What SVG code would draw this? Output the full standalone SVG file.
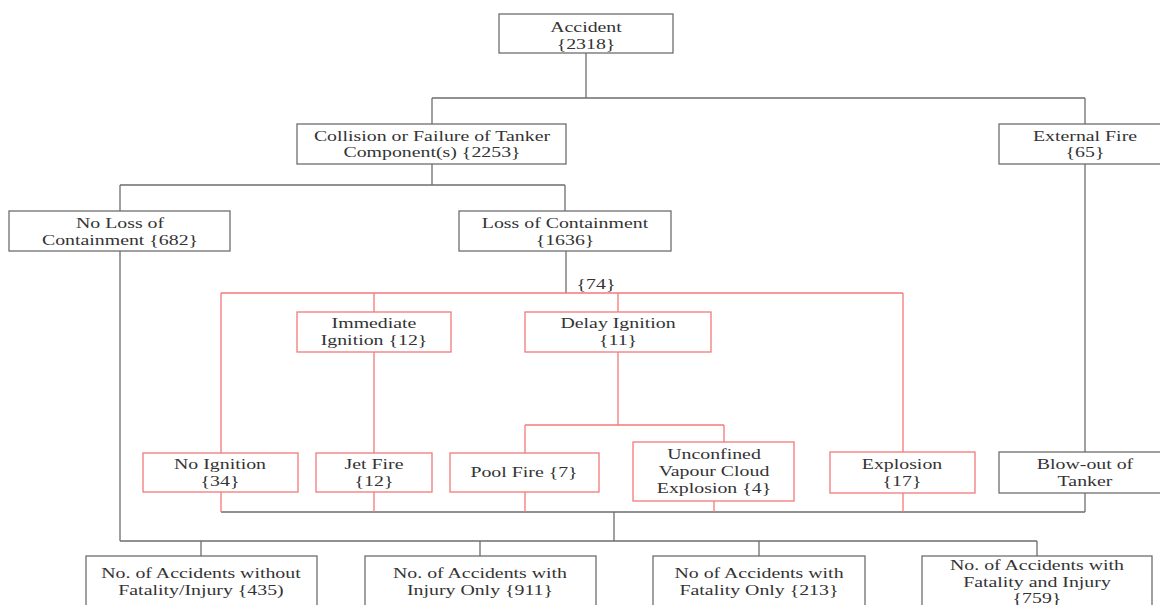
<svg xmlns="http://www.w3.org/2000/svg" width="1160" height="605" viewBox="0 0 1160 605">
  <style>
    .box { fill: #ffffff; stroke: #6e6e6e; stroke-width: 1.3; }
    .rbox { fill: #ffffff; stroke: #f27a7a; stroke-width: 1.3; }
    .ln { fill: none; stroke: #6e6e6e; stroke-width: 1.3; }
    .rln { fill: none; stroke: #f27a7a; stroke-width: 1.3; }
    text { font-family: "Liberation Serif", "Times New Roman", serif; font-size: 15.5px; fill: #333333; text-anchor: middle; }
  </style>
  <rect width="1160" height="605" fill="#ffffff"/>

  <!-- connectors -->
  <g id="connectors">
    <path class="ln" d="M586 53 V98 M432 98 H1085 M432 98 V124 M1085 98 V124 M432 164 V185 M120 185 H565 M120 185 V211 M565 185 V211 M120 251 V541 M566 251 V293 M1085 164 V452 M1085 493 V512 M221 512 H1085 M614 512 V541 M120 541 H1037 M201 541 V556 M480 541 V556 M759 541 V556 M1037 541 V556"/>
    <path class="rln" d="M221 293 H903 M221 293 V453 M374 293 V312 M618 293 V312 M903 293 V452 M374 352 V453 M618 352 V425 M525 425 H724 M525 425 V453 M724 425 V442 M221 492 V512 M374 492 V512 M525 492 V512 M714 501 V512 M903 493 V512"/>
    <text transform="translate(596 0) scale(1.28 1)" y="289">{74}</text>
  </g>

  <g id="accident">
    <rect class="box" x="499" y="14" width="174" height="39"/>
    <text transform="translate(586 0) scale(1.28 1)"><tspan x="0" y="32">Accident</tspan><tspan x="0" y="49">{2318}</tspan></text>
  </g>
  <g id="collision">
    <rect class="box" x="297" y="124" width="269" height="40"/>
    <text transform="translate(432 0) scale(1.28 1)"><tspan x="0" y="141">Collision or Failure of Tanker</tspan><tspan x="0" y="157">Component(s) {2253}</tspan></text>
  </g>
  <g id="external-fire">
    <rect class="box" x="999" y="124" width="172" height="40"/>
    <text transform="translate(1085 0) scale(1.28 1)"><tspan x="0" y="141">External Fire</tspan><tspan x="0" y="157">{65}</tspan></text>
  </g>
  <g id="no-loss">
    <rect class="box" x="9" y="211" width="221" height="40"/>
    <text transform="translate(120 0) scale(1.28 1)"><tspan x="0" y="228">No Loss of</tspan><tspan x="0" y="245">Containment {682}</tspan></text>
  </g>
  <g id="loss">
    <rect class="box" x="459" y="211" width="212" height="40"/>
    <text transform="translate(565 0) scale(1.28 1)"><tspan x="0" y="228">Loss of Containment</tspan><tspan x="0" y="245">{1636}</tspan></text>
  </g>
  <g id="immediate-ignition">
    <rect class="rbox" x="297" y="312" width="154" height="40"/>
    <text transform="translate(374 0) scale(1.28 1)"><tspan x="0" y="328">Immediate</tspan><tspan x="0" y="345">Ignition  {12}</tspan></text>
  </g>
  <g id="delay-ignition">
    <rect class="rbox" x="525" y="312" width="186" height="40"/>
    <text transform="translate(618 0) scale(1.28 1)"><tspan x="0" y="328">Delay Ignition</tspan><tspan x="0" y="345">{11}</tspan></text>
  </g>
  <g id="no-ignition">
    <rect class="rbox" x="143" y="453" width="155" height="39"/>
    <text transform="translate(220 0) scale(1.28 1)"><tspan x="0" y="469">No Ignition</tspan><tspan x="0" y="486">{34}</tspan></text>
  </g>
  <g id="jet-fire">
    <rect class="rbox" x="316" y="453" width="116" height="39"/>
    <text transform="translate(374 0) scale(1.28 1)"><tspan x="0" y="469">Jet Fire</tspan><tspan x="0" y="486">{12}</tspan></text>
  </g>
  <g id="pool-fire">
    <rect class="rbox" x="450" y="453" width="149" height="39"/>
    <text transform="translate(524 0) scale(1.28 1)" y="477">Pool Fire  {7}</text>
  </g>
  <g id="uvce">
    <rect class="rbox" x="633" y="442" width="161" height="59"/>
    <text transform="translate(714 0) scale(1.28 1)"><tspan x="0" y="459">Unconfined</tspan><tspan x="0" y="476">Vapour Cloud</tspan><tspan x="0" y="493">Explosion {4}</tspan></text>
  </g>
  <g id="explosion">
    <rect class="rbox" x="830" y="452" width="145" height="41"/>
    <text transform="translate(902 0) scale(1.28 1)"><tspan x="0" y="469">Explosion</tspan><tspan x="0" y="486">{17}</tspan></text>
  </g>
  <g id="blow-out">
    <rect class="box" x="999" y="452" width="172" height="41"/>
    <text transform="translate(1085 0) scale(1.28 1)"><tspan x="0" y="469">Blow-out of</tspan><tspan x="0" y="486">Tanker</tspan></text>
  </g>
  <g id="no-fatality-injury">
    <rect class="box" x="86" y="556" width="231" height="60"/>
    <text transform="translate(201 0) scale(1.28 1)"><tspan x="0" y="578">No. of Accidents without</tspan><tspan x="0" y="595">Fatality/Injury  {435)</tspan></text>
  </g>
  <g id="injury-only">
    <rect class="box" x="365" y="556" width="231" height="60"/>
    <text transform="translate(480 0) scale(1.28 1)"><tspan x="0" y="578">No. of Accidents with</tspan><tspan x="0" y="595">Injury Only  {911}</tspan></text>
  </g>
  <g id="fatality-only">
    <rect class="box" x="653" y="556" width="212" height="60"/>
    <text transform="translate(759 0) scale(1.28 1)"><tspan x="0" y="578">No of Accidents with</tspan><tspan x="0" y="595">Fatality Only {213}</tspan></text>
  </g>
  <g id="fatality-and-injury">
    <rect class="box" x="922" y="556" width="230" height="60"/>
    <text transform="translate(1037 0) scale(1.28 1)"><tspan x="0" y="570">No. of Accidents with</tspan><tspan x="0" y="587">Fatality and Injury</tspan><tspan x="0" y="603">{759}</tspan></text>
  </g>
</svg>
